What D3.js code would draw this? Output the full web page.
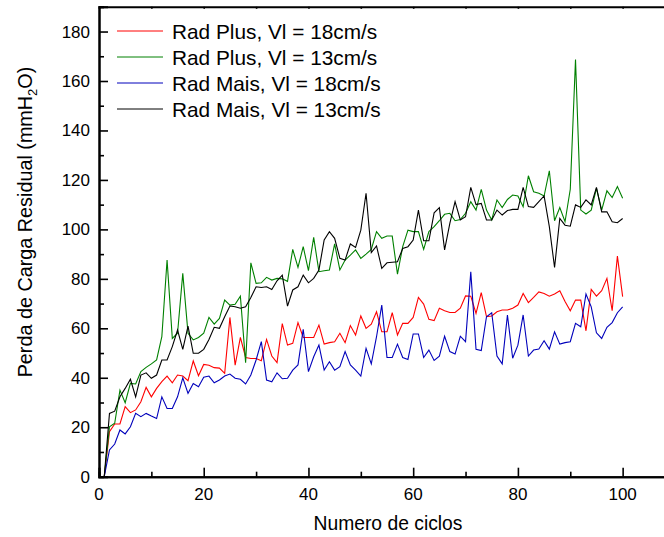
<!DOCTYPE html>
<html><head><meta charset="utf-8">
<script src="https://cdn.jsdelivr.net/npm/d3@7"></script>
<style>body{margin:0;background:#fff}svg{display:block}text{font-family:"Liberation Sans",Arial,sans-serif;fill:#000}</style>
</head><body>
<script>
const cycles = d3.range(1, 101);
const radPlus18 = [0,18.2,21.3,21.3,28.3,25.9,27,30.3,36.1,32.3,35.7,38.4,40.7,38,41.1,40.7,38.8,46.8,40.8,45.4,45.1,44.1,43.9,41.8,64.4,45.1,56.3,48.2,47.8,47.8,46.9,55.5,48.8,46.1,61.9,53.2,53.9,62.3,56.3,56.3,56.3,61.3,53.6,54.2,54.6,58,54.2,61.1,57.3,65,60,61.7,66.7,58.6,58.6,66.3,57.3,62,62,64.4,72.5,69.8,63.6,63.1,68.1,67.1,66.4,66.4,68.1,73.1,73,66,74.4,64.7,65,66.7,67.4,67.4,68.1,69.4,74.1,70.4,72.5,74.7,74.1,73,73.9,75.2,70.8,67.1,71.4,71.4,59,75.7,73,75.2,80.2,67.1,89.2,72.8];
const radPlus13 = [0,20.2,21.6,35,29.9,37.7,37.5,42.5,44.2,45.6,47.2,56.6,87.6,55.9,58,82.2,58,55.3,56.3,58,64.4,61.7,64,71.4,69.4,69.7,73,46.1,86.5,78.2,78.4,80.6,79.5,80.2,80,79,91.9,84.6,93,83.3,96.8,82.9,83.3,83.6,94.1,83.6,87.6,89.6,91.7,88.3,90,91.9,99.1,96.4,97.3,97.3,81.9,93,99.7,99.1,99.1,91.9,99.1,101.1,103.5,106.1,106.5,103.5,104,106.5,111.2,107.8,116.2,107.8,103.8,111.9,108.8,112.1,113.9,113.5,109.2,121.7,115.2,114.6,113.5,123.7,103.5,108.8,103.1,116.2,168.7,107.8,106.2,107.8,116.6,107.8,115.6,112.9,117.3,112.6];
const radMais18 = [0,10.8,13.2,18.9,17.3,20.2,25.6,24.3,25.6,24.5,23.5,32.3,27.6,27.6,32.3,40,33.7,37.7,36.4,40.2,40.7,38,39.1,40.7,41.5,39.8,39.4,37.5,41.1,47.2,54.6,39.1,38.4,42,39.6,39.8,43.1,45.2,59.6,42.5,48.5,53.2,43.1,46.5,43.1,44.5,50.6,45.2,43.1,40.7,51.9,45.6,56.6,69.4,48.2,48.2,53.6,48.2,47.4,57.7,57.7,48.2,51.2,47,48.7,56.8,50.6,49.6,56.8,54.6,82.9,51.5,51,64.7,66.3,48.8,45.6,65.4,47.9,53.2,65.4,48.8,51.2,51.6,55,51.6,58.6,53.6,54.2,54.6,62,60.6,73.9,68.7,58.2,55.9,60.4,62.3,66.3,68.7];
const radMais13 = [0,25.6,26.5,32.3,35.7,39.4,32.3,41.1,42,39.8,41.1,47.2,47.2,52.6,59.3,51.5,60.9,49.9,49.9,51.5,55.5,60.4,60,64.7,69,68.7,68.1,68.7,72.5,76.8,76.5,76.8,75.7,79.2,81.5,69,75.5,76.8,81.5,78.4,80.2,83.6,95.7,99.1,96.4,88.3,87.6,94.1,92.7,99.7,114.6,90.6,93.3,84.2,86.5,86.7,86.9,92.3,93,95.7,107.8,95.4,95.4,106.7,108.8,91.7,102.4,111.2,103.8,105.1,117,110,110.5,103.8,103.8,107.8,105.8,107.6,108.1,108.1,117,109.2,108.9,111.2,113.5,101.1,84.6,104.4,101.7,101.3,109.9,108.9,111.9,109.9,117,107.1,107.1,103.1,102.7,104.4];
const seriesNames = ["Rad Plus, Vl = 18cm/s","Rad Plus, Vl = 13cm/s","Rad Mais, Vl = 18cm/s","Rad Mais, Vl = 13cm/s"];
const seriesColors = ["#ff0000","#008000","#0000bb","#000000"];
const xTicks = [0,20,40,60,80,100];
const yTicks = [0,20,40,60,80,100,120,140,160,180];
const xLabel = "Numero de ciclos";

const W = 664, H = 537;
const svg = d3.select("body").append("svg").attr("width", W).attr("height", H);
const x = d3.scaleLinear().domain([0, 110]).range([99, 675]);
const y = d3.scaleLinear().domain([0, 190]).range([476.7, 6.8]);

const allSeries = [radPlus18, radPlus13, radMais18, radMais13];
const line = d3.line().x((d, i) => x(cycles[i])).y(d => y(d));
const plot = svg.append("g");
allSeries.forEach((s, k) => {
  plot.append("path").datum(s).attr("d", line).attr("fill", "none")
    .attr("stroke", seriesColors[k]).attr("stroke-width", 1.1).attr("stroke-linejoin", "miter");
});

// axes (ticks inward)
const minorX = d3.range(0, 111, 10).filter(v => v % 20 !== 0);
const minorY = d3.range(10, 191, 20);
const gB = svg.append("g").attr("transform", `translate(0,${y(0)})`)
  .call(d3.axisTop(x).tickValues(xTicks).tickSize(9).tickFormat(""));
const gBm = svg.append("g").attr("transform", `translate(0,${y(0)})`)
  .call(d3.axisTop(x).tickValues(minorX).tickSize(5).tickFormat(""));
const gL = svg.append("g").attr("transform", `translate(${x(0)},0)`)
  .call(d3.axisRight(y).tickValues(yTicks).tickSize(9).tickFormat(""));
const gLm = svg.append("g").attr("transform", `translate(${x(0)},0)`)
  .call(d3.axisRight(y).tickValues(minorY).tickSize(5).tickFormat(""));
const gT = svg.append("g").attr("transform", `translate(0,${y(190)})`)
  .call(d3.axisBottom(x).tickValues(d3.range(10, 111, 10)).tickSize(2).tickFormat(""));
[gB, gBm, gL, gLm, gT].forEach(g => {
  g.selectAll(".domain").attr("stroke", "#000").attr("stroke-width", 2);
  g.selectAll(".tick line").attr("stroke", "#000").attr("stroke-width", 1.6);
});
// tick labels
svg.append("g").selectAll("text").data(xTicks).join("text")
  .attr("x", d => x(d)).attr("y", 500).attr("text-anchor", "middle")
  .attr("font-size", 17).text(d => d);
svg.append("g").selectAll("text").data(yTicks).join("text")
  .attr("x", 90).attr("y", d => y(d) + 6).attr("text-anchor", "end")
  .attr("font-size", 17).text(d => d);

// axis titles
svg.append("text").attr("x", 388).attr("y", 530).attr("text-anchor", "middle")
  .attr("font-size", 19.3).text(xLabel);
const yt = svg.append("text").attr("transform", "translate(32,222) rotate(-90)")
  .attr("text-anchor", "middle").attr("font-size", 19.8);
yt.append("tspan").text("Perda de Carga Residual (mmH");
yt.append("tspan").attr("font-size", 13).attr("dy", 5).text("2");
yt.append("tspan").attr("dy", -5).text("O)");

// legend
const lg = svg.append("g");
seriesNames.forEach((n, k) => {
  const ly = 31 + k * 26;
  lg.append("line").attr("x1", 117).attr("x2", 163).attr("y1", ly).attr("y2", ly)
    .attr("stroke", seriesColors[k]).attr("stroke-width", 1);
  lg.append("text").attr("x", 172).attr("y", ly + 7.5).attr("font-size", 20.8).text(n);
});
</script>
</body></html>
